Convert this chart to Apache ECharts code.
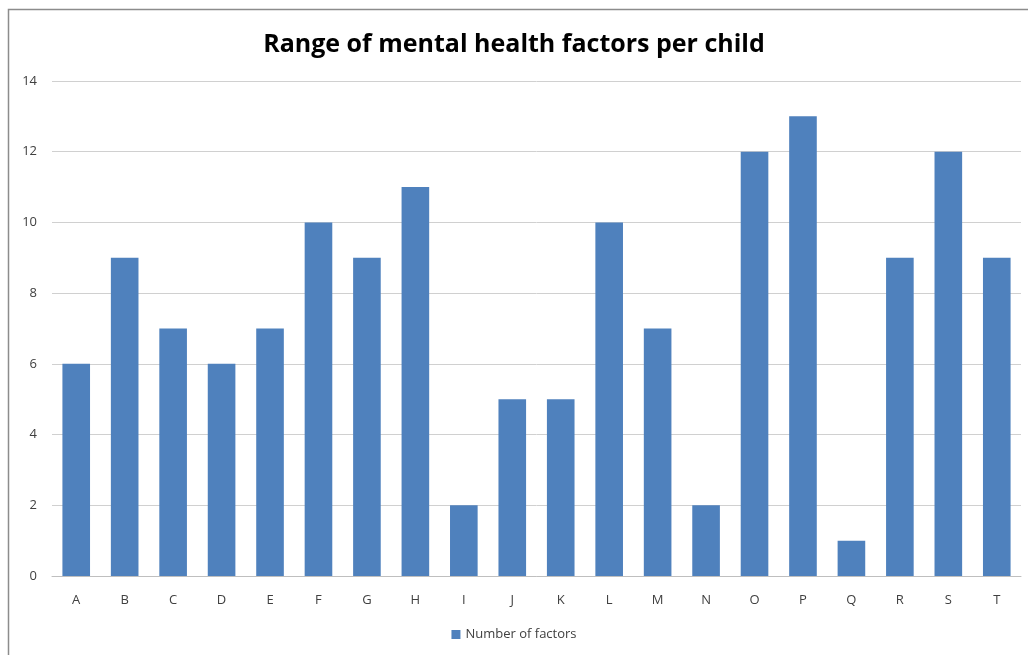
<!DOCTYPE html>
<html>
<head>
<meta charset="utf-8">
<script src="https://cdn.jsdelivr.net/npm/echarts@6/dist/echarts.min.js"></script>
<style>
  html, body { margin: 0; padding: 0; background: #fff; }
  #chart { width: 1028px; height: 655px; }
</style>
</head>
<body>
<div id="chart"></div>
<script>
const children = ['A', 'B', 'C', 'D', 'E', 'F', 'G', 'H', 'I', 'J', 'K', 'L', 'M', 'N', 'O', 'P', 'Q', 'R', 'S', 'T'];
const factorCounts = [6, 9, 7, 6, 7, 10, 9, 11, 2, 5, 5, 10, 7, 2, 12, 13, 1, 9, 12, 9];
const seriesName = 'Number of factors';

const FONT = '"Open Sans", "Liberation Sans", sans-serif';
const chart = echarts.init(document.getElementById('chart'));

chart.setOption({
  animation: false,
  title: {
    text: 'Range of mental health factors per child',
    left: 'center',
    top: 27,
    textStyle: { fontFamily: FONT, fontSize: 25, fontWeight: 'bold', color: '#000' }
  },
  // chart frame (left and top edges only, like the crop in the source)
  graphic: [{
    type: 'polyline',
    shape: { points: [[8.5, 655], [8.5, 9.5], [1028, 9.5]] },
    style: { stroke: '#8c8c8c', lineWidth: 1.5, fill: null }
  }],
  legend: {
    bottom: 9,
    left: 'center',
    itemWidth: 9,
    itemHeight: 9,
    icon: 'rect',
    textStyle: { fontFamily: FONT, fontSize: 13, color: '#404040' },
    data: [seriesName]
  },
  grid: { left: 52, right: 7, top: 81, bottom: 79 },
  xAxis: {
    type: 'category',
    data: children,
    axisLine: { lineStyle: { color: '#bfbfbf' } },
    axisTick: { show: false },
    axisLabel: { fontFamily: FONT, fontSize: 13, color: '#404040', margin: 18 }
  },
  yAxis: {
    type: 'value',
    min: 0,
    max: 14,
    interval: 2,
    axisLine: { show: false },
    axisTick: { show: false },
    axisLabel: { fontFamily: FONT, fontSize: 13, color: '#404040', margin: 15 },
    splitLine: { lineStyle: { color: '#d0d0d0' } }
  },
  series: [{
    name: seriesName,
    type: 'bar',
    data: factorCounts,
    barCategoryGap: '43%',
    itemStyle: { color: '#4f81bd' }
  }]
});
</script>
</body>
</html>
